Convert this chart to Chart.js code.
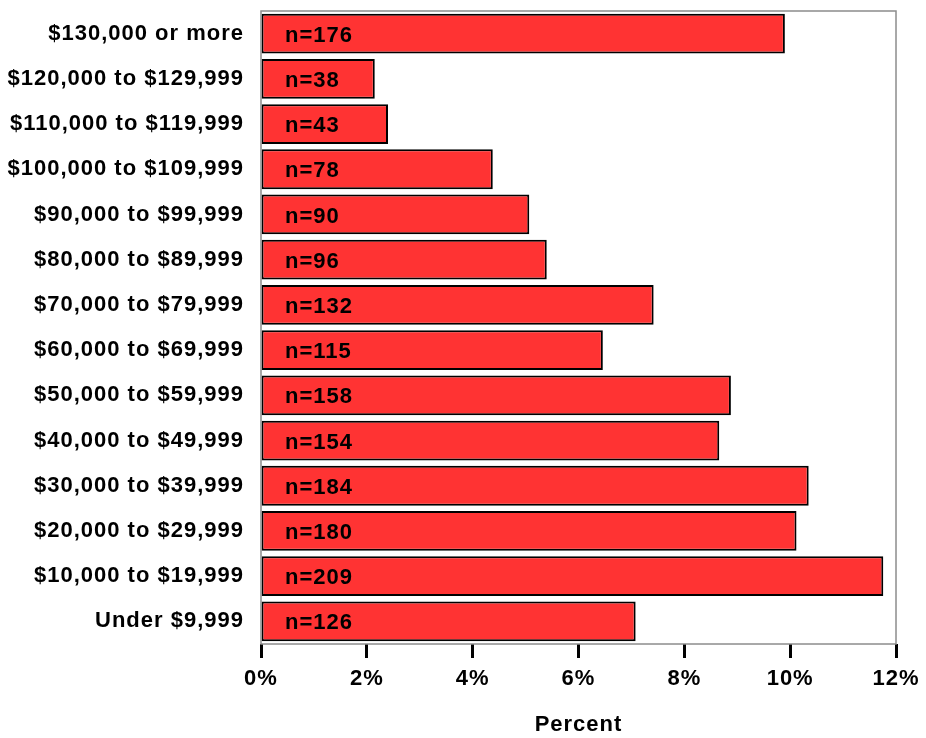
<!DOCTYPE html>
<html>
<head>
<meta charset="utf-8">
<script src="https://cdn.jsdelivr.net/npm/chart.js@4/dist/chart.umd.min.js"></script>
<style>
  html, body { margin: 0; padding: 0; background: #fff; }
  #wrap { width: 926px; height: 738px; }
</style>
</head>
<body>
<div id="wrap"><canvas id="incomeChart"></canvas></div>
<script>
// income brackets, top to bottom as in the picture
const incomeLabels = [
  "$130,000 or more",
  "$120,000 to $129,999",
  "$110,000 to $119,999",
  "$100,000 to $109,999",
  "$90,000 to $99,999",
  "$80,000 to $89,999",
  "$70,000 to $79,999",
  "$60,000 to $69,999",
  "$50,000 to $59,999",
  "$40,000 to $49,999",
  "$30,000 to $39,999",
  "$20,000 to $29,999",
  "$10,000 to $19,999",
  "Under $9,999",
];
// percent of respondents
const percentData = [9.9, 2.15, 2.4, 4.38, 5.07, 5.4, 7.42, 6.46, 8.88, 8.66, 10.35, 10.12, 11.76, 7.08];
// respondent counts shown inside bars
const countData = [176, 38, 43, 78, 90, 96, 132, 115, 158, 154, 184, 180, 209, 126];
const xTicks = [0, 2, 4, 6, 8, 10, 12];

const fontFamily = "'Liberation Sans', Arial, sans-serif";

// the original text is a bit spread out
const spacing = {
  id: "spacing",
  beforeLayout(chart) { chart.ctx.letterSpacing = "1px"; },
  beforeDraw(chart) { chart.ctx.letterSpacing = "1px"; },
};

// grey frame round the plot area
const frame = {
  id: "frame",
  afterDraw(chart) {
    const a = chart.chartArea;
    const c = chart.ctx;
    c.save();
    c.strokeStyle = "#8c8c8c";
    c.lineWidth = 1.5;
    c.strokeRect(a.left, a.top, a.right - a.left, a.bottom - a.top);
    c.restore();
  },
};

// "n=..." labels near the base of each bar
const countLabels = {
  id: "countLabels",
  afterDatasetsDraw(chart) {
    const c = chart.ctx;
    const meta = chart.getDatasetMeta(0);
    c.save();
    c.font = "bold 22px " + fontFamily;
    c.fillStyle = "#000";
    c.textBaseline = "middle";
    c.textAlign = "left";
    meta.data.forEach((bar, i) => {
      c.fillText("n=" + countData[i], chart.chartArea.left + 24, bar.y + 2);
    });
    c.restore();
  },
};

const ctx = document.getElementById("incomeChart").getContext("2d");
new Chart(ctx, {
  type: "bar",
  data: {
    labels: incomeLabels,
    datasets: [
      {
        data: percentData,
        backgroundColor: "rgb(255, 51, 51)",
        borderColor: "#000",
        borderWidth: 2,
        borderSkipped: false,
        barPercentage: 0.88,
        categoryPercentage: 1,
      },
    ],
  },
  options: {
    indexAxis: "y",
    responsive: true,
    maintainAspectRatio: false,
    animation: false,
    layout: { padding: { top: 11, right: 30, left: 0, bottom: 0 } },
    plugins: {
      legend: { display: false },
      tooltip: { enabled: false },
    },
    scales: {
      x: {
        min: 0,
        max: 12,
        afterBuildTicks: (s) => {
          s.ticks = xTicks.map((v) => ({ value: v }));
        },
        afterFit: (s) => {
          s.height = 94;
          s.paddingRight = 0;
          s.paddingLeft = 0;
        },
        border: { display: false },
        grid: {
          drawOnChartArea: false,
          drawTicks: true,
          tickLength: 14,
          tickWidth: 3,
          tickColor: "#000",
        },
        ticks: {
          padding: 8,
          color: "#000",
          font: { family: fontFamily, size: 22, weight: "bold" },
          callback: (v) => v + "%",
        },
        title: {
          display: true,
          text: "Percent",
          color: "#000",
          padding: { top: 20, bottom: 0 },
          font: { family: fontFamily, size: 22, weight: "bold" },
        },
      },
      y: {
        border: { display: false },
        grid: { display: false },
        afterFit: (s) => {
          s.width = 261;
          s.paddingTop = 0;
          s.paddingBottom = 0;
        },
        ticks: {
          padding: 9,
          color: "#000",
          font: { family: fontFamily, size: 22, weight: "bold" },
        },
      },
    },
  },
  plugins: [spacing, frame, countLabels],
});
</script>
</body>
</html>
